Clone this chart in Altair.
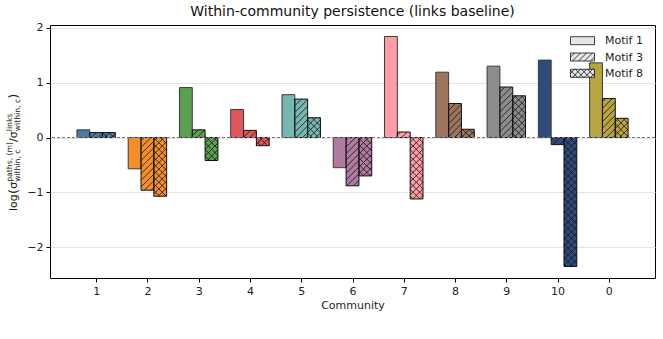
import json
import math
import altair as alt
import pandas as pd

# ---------------- data ----------------
communities = ["1", "2", "3", "4", "5", "6", "7", "8", "9", "10", "0"]
colors = ["#4e79a7", "#f28e2b", "#59a14f", "#e15759", "#76b7b2", "#b07aa1",
          "#ff9da7", "#9c755f", "#8c8c8c", "#2f4b7c", "#b8a441"]
motifs = ["Motif 1", "Motif 3", "Motif 8"]
motif1 = [0.14, -0.57, 0.91, 0.51, 0.78, -0.55, 1.84, 1.19, 1.30, 1.41, 1.36]
motif3 = [0.09, -0.96, 0.14, 0.13, 0.70, -0.88, 0.10, 0.62, 0.92, -0.13, 0.71]
motif8 = [0.09, -1.07, -0.42, -0.15, 0.36, -0.70, -1.12, 0.15, 0.76, -2.35, 0.35]
hatches = {"Motif 1": "", "Motif 3": "/", "Motif 8": "x"}
y_ticks = [-2, -1, 0, 1, 2]

# ---------------- layout ----------------
W, H = 605, 253
XMIN, XMAX = -0.9, 10.9
YMIN, YMAX = -2.56, 2.05
BAR_W = 0.25
OFFS = [-0.25, 0.0, 0.25]
HATCH_SP = 6.6
FONT = "DejaVu Sans"

kx = W / (XMAX - XMIN)
ky = H / (YMAX - YMIN)

rows = []
for mi, (m, vals) in enumerate(zip(motifs, [motif1, motif3, motif8])):
    for ci, (c, v) in enumerate(zip(communities, vals)):
        xc = ci + OFFS[mi]
        rows.append(dict(community=c, motif=m, value=v, base=0.0,
                         x0=xc - BAR_W / 2, x1=xc + BAR_W / 2, xc=xc,
                         edge="#3a3a3a" if m == "Motif 1" else "#111111"))
bars = pd.DataFrame(rows)


def clip_lines(X0, X1, Y0, Y1, kind):
    segs = []
    if kind == "/":
        lo_c, hi_c = Y0 - X1, Y1 - X0
        for n in range(math.floor(lo_c / HATCH_SP), math.ceil(hi_c / HATCH_SP) + 1):
            c = n * HATCH_SP
            a, b = max(X0, Y0 - c), min(X1, Y1 - c)
            if b - a > 0.3:
                segs.append((a, a + c, b, b + c))
    else:
        lo_c, hi_c = X0 + Y0, X1 + Y1
        for n in range(math.floor(lo_c / HATCH_SP), math.ceil(hi_c / HATCH_SP) + 1):
            c = n * HATCH_SP
            a, b = max(X0, c - Y1), min(X1, c - Y0)
            if b - a > 0.3:
                segs.append((a, c - a, b, c - b))
    return segs


hrows = []
for r in rows:
    h = hatches[r["motif"]]
    if not h:
        continue
    X0 = (r["x0"] - XMIN) * kx
    X1 = (r["x1"] - XMIN) * kx
    ya, yb = sorted([r["value"], 0.0])
    Y0 = (ya - YMIN) * ky
    Y1 = (yb - YMIN) * ky
    kinds = ["/"] if h == "/" else ["/", "\\"]
    for k in kinds:
        for (xa, ya_, xb, yb_) in clip_lines(X0, X1, Y0, Y1, k):
            hrows.append(dict(hx=xa / kx + XMIN, hy=ya_ / ky + YMIN,
                              hx2=xb / kx + XMIN, hy2=yb_ / ky + YMIN))
hatch_df = pd.DataFrame(hrows)

# legend symbol paths (unit coords, scaled by sqrt(size)/2)
LH = 0.667


def sym_path(kind):
    p = f"M-2,{-LH}H2V{LH}H-2Z"
    if kind in ("/", "x"):
        for n in range(-3, 4):
            c = n * 1.0
            a, b = max(-2, c - LH), min(2, c + LH)
            if b - a > 0.05:
                p += f" M{a:.3f},{c - a:.3f}L{b:.3f},{c - b:.3f}"
    if kind == "x":
        for n in range(-3, 4):
            c = n * 1.0 + 0.5
            a, b = max(-2, c - LH), min(2, c + LH)
            if b - a > 0.05:
                p += f" M{a:.3f},{a - c:.3f}L{b:.3f},{b - c:.3f}"
    return p


xs = alt.Scale(domain=[XMIN, XMAX], nice=False, zero=False)
ys = alt.Scale(domain=[YMIN, YMAX], nice=False, zero=False)
label_expr = json.dumps(communities) + "[datum.value]"

x_axis = alt.Axis(values=list(range(len(communities))), labelExpr=label_expr,
                  title="Community", grid=False, domain=False, tickColor="black",
                  tickSize=4, labelFontSize=11, titleFontSize=11, labelColor="#222",
                  titleColor="#222", titleFontWeight="normal", titlePadding=3,
                  labelFont=FONT, titleFont=FONT, labelPadding=3)
y_axis = alt.Axis(values=y_ticks, format="d", title="", grid=True, gridColor="#e4e4e4",
                  gridWidth=1, domain=False, tickColor="black", tickSize=4,
                  labelFontSize=11, labelColor="#222", labelFont=FONT, labelPadding=3)

base = alt.Chart(bars)

fill_layer = base.mark_rect(strokeWidth=0).encode(
    x=alt.X("x0:Q", scale=xs, axis=x_axis),
    x2="x1:Q",
    y=alt.Y("value:Q", scale=ys, axis=y_axis),
    y2="base:Q",
    color=alt.Color("community:N", scale=alt.Scale(domain=communities, range=colors),
                    legend=None),
)

hatch_layer = alt.Chart(hatch_df).mark_rule(color="#111", strokeWidth=0.8).encode(
    x=alt.X("hx:Q", scale=xs), x2="hx2:Q",
    y=alt.Y("hy:Q", scale=ys), y2="hy2:Q",
)

edge_layer = base.mark_rect(fillOpacity=0, strokeWidth=1).encode(
    x=alt.X("x0:Q", scale=xs), x2="x1:Q",
    y=alt.Y("value:Q", scale=ys), y2="base:Q",
    stroke=alt.Stroke("edge:N", scale=None),
)

zero_layer = base.mark_rule(color="#777", strokeWidth=1, strokeDash=[3, 2]).encode(
    y=alt.datum(0)
)

# manual legend (hatched swatches + labels)
LEG_X, LEG_Y0, LEG_DY = 532.5, 15.7, 16.3
legend_layers = []
for i, m in enumerate(motifs):
    ly = LEG_Y0 + i * LEG_DY
    legend_layers.append(
        alt.Chart(pd.DataFrame({"m": [m]})).mark_point(
            shape=sym_path(hatches[m]), size=144, filled=True, fill="#e6e6e6",
            stroke="#111", strokeWidth=0.8, opacity=1
        ).encode(x=alt.value(LEG_X), y=alt.value(ly))
    )
    legend_layers.append(
        alt.Chart(pd.DataFrame({"m": [m]})).mark_text(
            align="left", baseline="middle", font=FONT, fontSize=11, color="#222"
        ).encode(text="m:N", x=alt.value(LEG_X + 22.5), y=alt.value(ly + 0.5))
    )

# y-axis title built from pieces (rotated, with super/subscripts)
MAIN, SCR, PAR = 11, 7.7, 13
pieces = [
    ("log", MAIN, 0.0, 17.1),
    ("(", PAR, 0.7, 5.07),
    ("σ", MAIN, 0.0, 6.98),
    ("paths, (m)", SCR, -5.0, 0.0),
    ("within, c", SCR, 2.5, 39.92),
    ("/", MAIN, 0.0, 3.71),
    ("σ", MAIN, 0.0, 6.98),
    ("links", SCR, -5.0, 0.0),
    ("within, c", SCR, 2.5, 32.49),
    (")", PAR, 0.7, 5.07),
]
TX, TY = -33.0, 186.0
label_layers = []
adv = 0.0
for txt, fs, shift, w in pieces:
    label_layers.append(
        alt.Chart(pd.DataFrame({"t": [txt]})).mark_text(
            angle=270, align="left", baseline="alphabetic", font=FONT,
            fontSize=fs, color="#222"
        ).encode(text="t:N", x=alt.value(TX + shift), y=alt.value(TY - adv))
    )
    adv += w

chart = alt.layer(fill_layer, hatch_layer, edge_layer, zero_layer,
                  *legend_layers, *label_layers).properties(
    width=W, height=H,
    autosize=alt.AutoSizeParams(type="none"),
    padding={"left": 50, "top": 25, "right": 8, "bottom": 61},
    title=alt.TitleParams(text="Within-community persistence (links baseline)",
                          fontSize=14, fontWeight="normal", font=FONT, color="#111",
                          anchor="middle", offset=3),
).configure(background="white").configure_view(stroke="black", strokeWidth=1)

chart.save("out.html", embed_options={"renderer": "svg", "actions": False})
